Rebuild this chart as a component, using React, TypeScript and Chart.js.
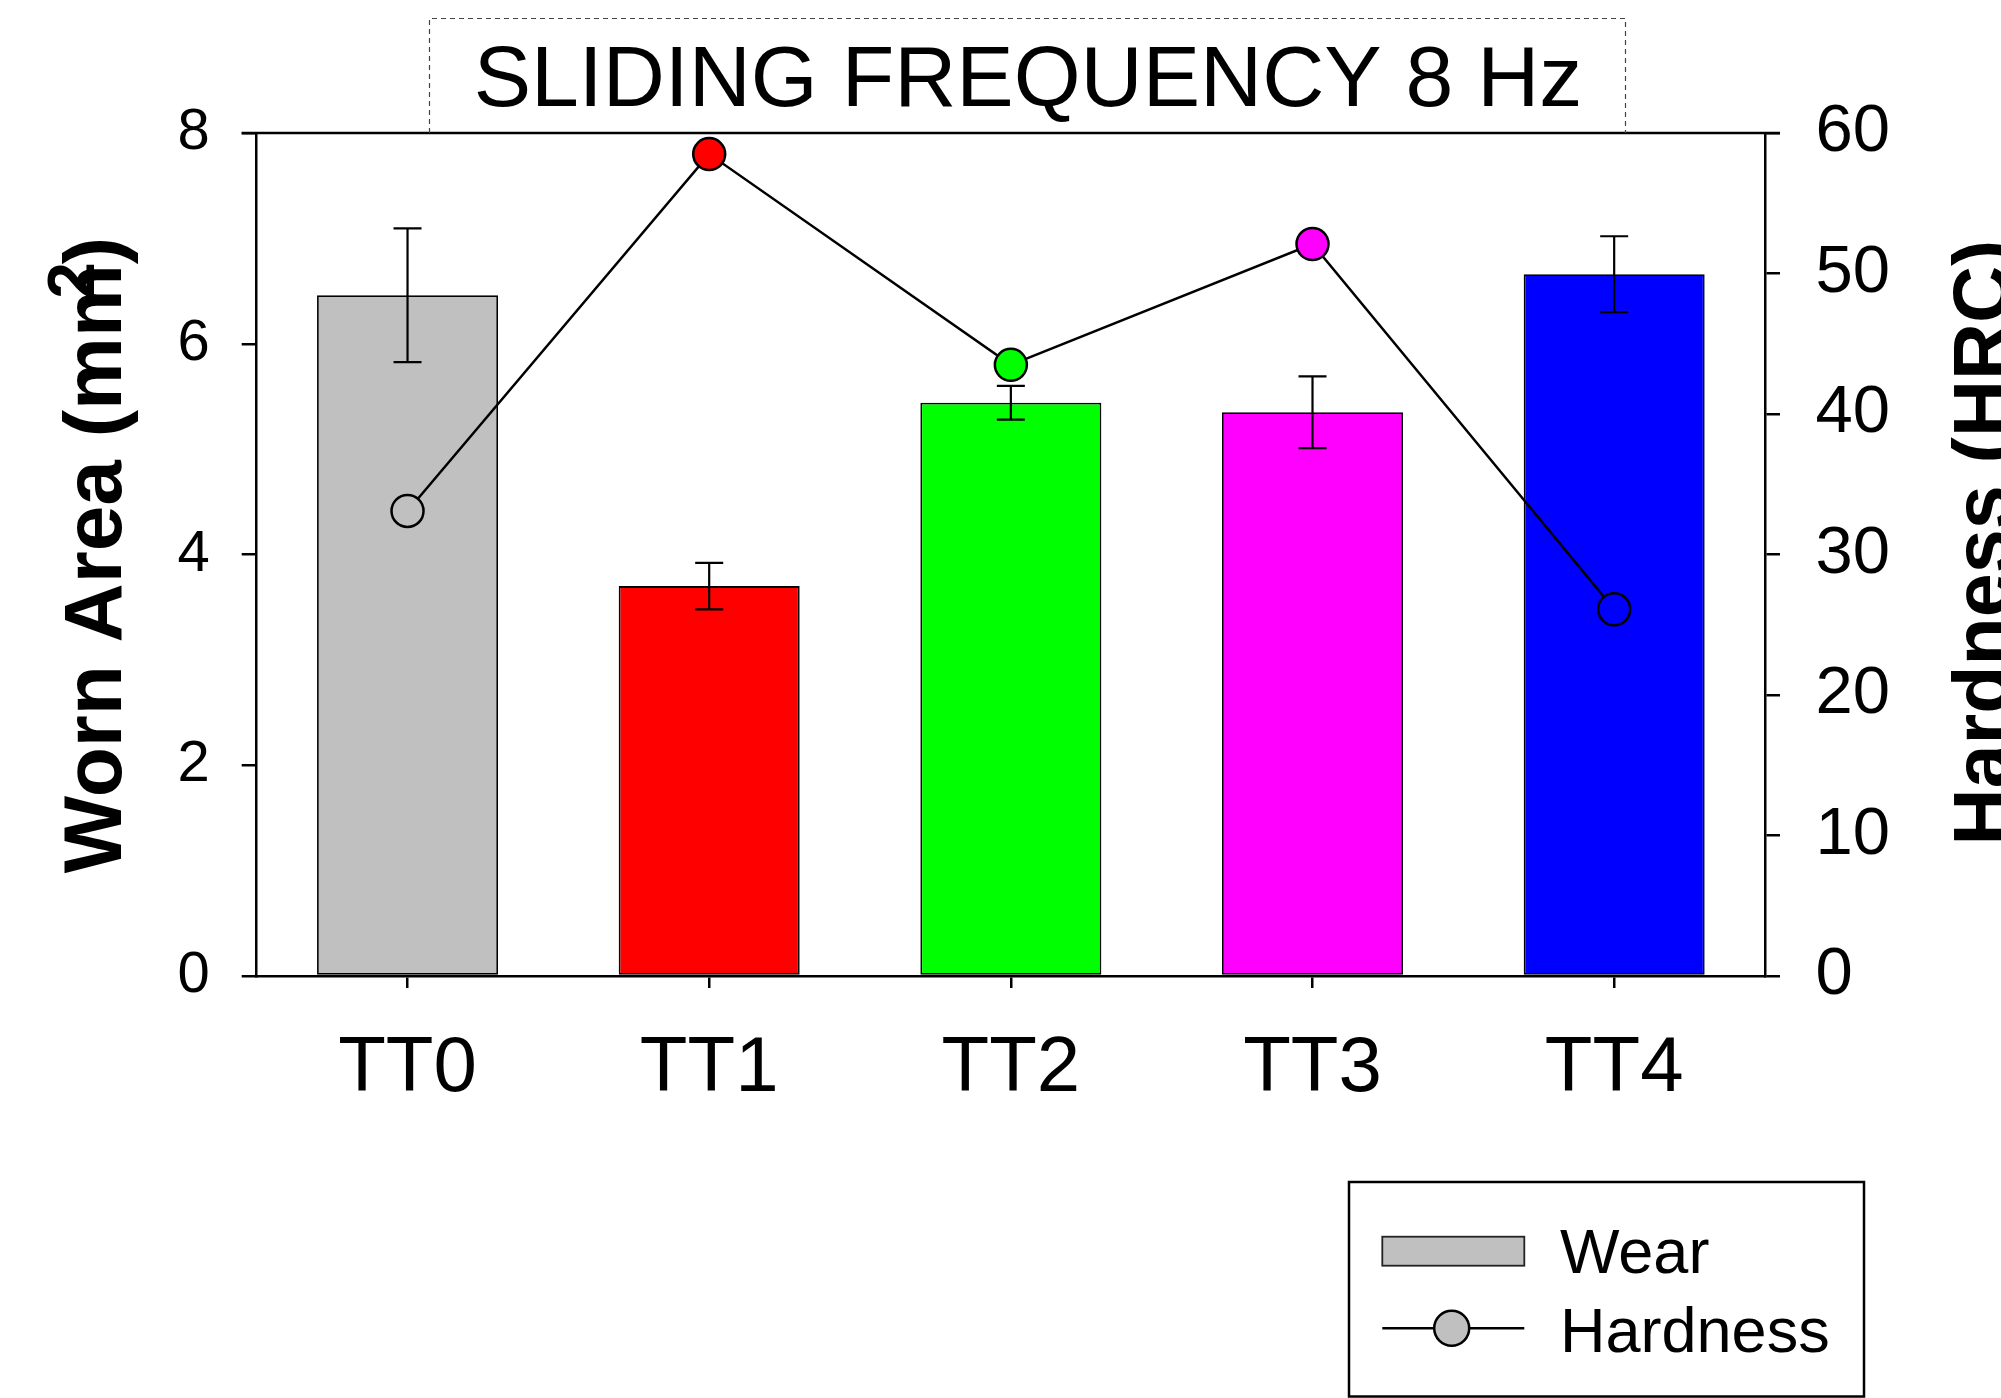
import React, { useEffect, useRef } from 'react';
import { Chart, registerables } from 'chart.js';

Chart.register(...registerables);

const categories = ['TT0', 'TT1', 'TT2', 'TT3', 'TT4'];
const wearValues = [6.46, 3.7, 5.44, 5.35, 6.66];
const wearErrors = [0.635, 0.22, 0.16, 0.34, 0.36];
const hardnessValues = [33.1, 58.5, 43.5, 52.1, 26.1];
const seriesColors = ['#c0c0c0', '#ff0000', '#00ff00', '#ff00ff', '#0000ff'];
const wearRange = [0, 8];
const wearStep = 2;
const hardnessRange = [0, 60];
const hardnessStep = 10;
const titleText = 'SLIDING FREQUENCY 8 Hz';
const leftAxisTitle = 'Worn Area (mm)';
const leftAxisTitleSup = '2';
const rightAxisTitle = 'Hardness (HRC)';
const legendLabels = ['Wear', 'Hardness'];

const FONT = '"Liberation Sans", Arial, Helvetica, sans-serif';
const W = 2001;
const H = 1398;

const errorBarPlugin = {
  id: 'errorBars',
  afterDatasetDraw(chart: any, args: any) {
    if (args.index !== 1) return;
    const ctx = chart.ctx;
    const meta = chart.getDatasetMeta(1);
    const yScale = chart.scales.y;
    ctx.save();
    ctx.strokeStyle = '#000';
    ctx.lineWidth = 2.2;
    meta.data.forEach((bar: any, i: number) => {
      const x = bar.x;
      const top = yScale.getPixelForValue(wearValues[i] + wearErrors[i]);
      const bot = yScale.getPixelForValue(wearValues[i] - wearErrors[i]);
      ctx.beginPath();
      ctx.moveTo(x, top);
      ctx.lineTo(x, bot);
      ctx.moveTo(x - 14, top);
      ctx.lineTo(x + 14, top);
      ctx.moveTo(x - 14, bot);
      ctx.lineTo(x + 14, bot);
      ctx.stroke();
    });
    ctx.restore();
  },
};

const decorPlugin = {
  id: 'decor',
  afterDraw(chart: any) {
    const ctx = chart.ctx;
    const area = chart.chartArea;
    ctx.save();

    // top frame line
    ctx.strokeStyle = '#000';
    ctx.lineWidth = 2.5;
    ctx.beginPath();
    ctx.moveTo(area.left - 15, area.top);
    ctx.lineTo(area.right + 15, area.top);
    ctx.stroke();

    // title dashed box
    ctx.save();
    ctx.strokeStyle = '#444';
    ctx.lineWidth = 1.2;
    ctx.setLineDash([5, 4]);
    ctx.beginPath();
    ctx.moveTo(429.5, area.top);
    ctx.lineTo(429.5, 18.5);
    ctx.lineTo(1625.5, 18.5);
    ctx.lineTo(1625.5, area.top);
    ctx.stroke();
    ctx.restore();

    // title text
    ctx.fillStyle = '#000';
    ctx.font = `86px ${FONT}`;
    ctx.textAlign = 'center';
    ctx.textBaseline = 'alphabetic';
    ctx.fillText(titleText, 1028, 105.5);

    // left axis title
    ctx.save();
    ctx.translate(120.5, 555);
    ctx.rotate(-Math.PI / 2);
    ctx.font = `bold 82px ${FONT}`;
    ctx.textAlign = 'center';
    ctx.fillText(leftAxisTitle, 0, 0);
    const full = ctx.measureText(leftAxisTitle).width;
    const closeW = ctx.measureText(')').width;
    const supRight = full / 2 - closeW;
    ctx.font = `bold 66px ${FONT}`;
    ctx.textAlign = 'right';
    ctx.fillText(leftAxisTitleSup, supRight + 2, -26.5);
    ctx.restore();

    // right axis title
    ctx.save();
    ctx.translate(2009, 542.5);
    ctx.rotate(-Math.PI / 2);
    ctx.font = `bold 79px ${FONT}`;
    ctx.textAlign = 'center';
    ctx.fillText(rightAxisTitle, 0, 0);
    ctx.restore();

    // legend box
    ctx.strokeStyle = '#000';
    ctx.lineWidth = 2.5;
    ctx.strokeRect(1349, 1182, 515, 214.5);

    // wear swatch
    ctx.fillStyle = seriesColors[0];
    ctx.fillRect(1382.3, 1236.7, 142, 29);
    ctx.lineWidth = 1.8;
    ctx.strokeStyle = '#222';
    ctx.strokeRect(1382.3, 1236.7, 142, 29);

    // hardness line + marker
    ctx.strokeStyle = '#000';
    ctx.lineWidth = 2.5;
    ctx.beginPath();
    ctx.moveTo(1382.3, 1328.3);
    ctx.lineTo(1524.3, 1328.3);
    ctx.stroke();
    ctx.beginPath();
    ctx.arc(1451.7, 1328.3, 17.5, 0, Math.PI * 2);
    ctx.fillStyle = seriesColors[0];
    ctx.fill();
    ctx.lineWidth = 2.5;
    ctx.stroke();

    ctx.fillStyle = '#000';
    ctx.font = `63px ${FONT}`;
    ctx.textAlign = 'left';
    ctx.textBaseline = 'alphabetic';
    ctx.fillText(legendLabels[0], 1560, 1273.3);
    ctx.fillText(legendLabels[1], 1560, 1351.7);

    ctx.restore();
  },
};

export default function App() {
  const canvasRef = useRef<HTMLCanvasElement | null>(null);

  useEffect(() => {
    if (!canvasRef.current) return;
    Chart.defaults.font.family = FONT;
    const chart = new Chart(canvasRef.current, {
      type: 'bar',
      data: {
        labels: categories,
        datasets: [
          {
            type: 'line',
            label: legendLabels[1],
            data: hardnessValues,
            yAxisID: 'y1',
            borderColor: '#000',
            borderWidth: 2.5,
            pointRadius: 16,
            pointBorderWidth: 2.5,
            pointBorderColor: '#000',
            pointBackgroundColor: seriesColors,
            tension: 0,
            fill: false,
            order: 0,
            clip: false,
          } as any,
          {
            type: 'bar',
            label: legendLabels[0],
            data: wearValues,
            yAxisID: 'y',
            backgroundColor: seriesColors,
            borderColor: '#000',
            borderWidth: 1.8,
            borderSkipped: false,
            barPercentage: 0.6,
            categoryPercentage: 1,
            order: 1,
          } as any,
        ],
      },
      options: {
        responsive: false,
        maintainAspectRatio: false,
        animation: false,
        devicePixelRatio: 1,
        events: [],
        layout: { padding: { top: 133, left: 0, right: 0, bottom: 0 } },
        plugins: {
          legend: { display: false },
          title: { display: false },
          tooltip: { enabled: false },
        },
        scales: {
          x: {
            type: 'category',
            offset: true,
            grid: {
              display: true,
              offset: false,
              drawOnChartArea: false,
              drawTicks: true,
              tickLength: 12,
              color: '#000',
              lineWidth: 2.5,
            },
            border: { display: true, color: '#000', width: 2.5 },
            ticks: {
              color: '#000',
              font: { size: 78, family: FONT },
              padding: 35,
              maxRotation: 0,
              autoSkip: false,
            },
            afterFit: (scale: any) => {
              scale.height = H - 976;
            },
          },
          y: {
            type: 'linear',
            position: 'left',
            min: wearRange[0],
            max: wearRange[1],
            grid: {
              display: true,
              drawOnChartArea: false,
              drawTicks: true,
              tickLength: 15,
              color: '#000',
              lineWidth: 2.5,
            },
            border: { display: true, color: '#000', width: 2.5 },
            ticks: {
              stepSize: wearStep,
              color: '#000',
              font: { size: 58, family: FONT },
              padding: 32,
            },
            afterFit: (scale: any) => {
              scale.width = 256.7;
            },
          },
          y1: {
            type: 'linear',
            position: 'right',
            min: hardnessRange[0],
            max: hardnessRange[1],
            grid: {
              display: true,
              drawOnChartArea: false,
              drawTicks: true,
              tickLength: 15,
              color: '#000',
              lineWidth: 2.5,
            },
            border: { display: true, color: '#000', width: 2.5 },
            ticks: {
              stepSize: hardnessStep,
              color: '#000',
              font: { size: 67, family: FONT },
              padding: 35.5,
            },
            afterFit: (scale: any) => {
              scale.width = W - 1765;
            },
          },
        },
      },
      plugins: [errorBarPlugin, decorPlugin],
    });
    return () => chart.destroy();
  }, []);

  return (
    <div
      style={{
        position: 'fixed',
        left: 0,
        top: 0,
        width: W,
        height: H,
        background: '#fff',
        overflow: 'hidden',
      }}
    >
      <canvas ref={canvasRef} width={W} height={H} style={{ display: 'block', width: W, height: H }} />
    </div>
  );
}
